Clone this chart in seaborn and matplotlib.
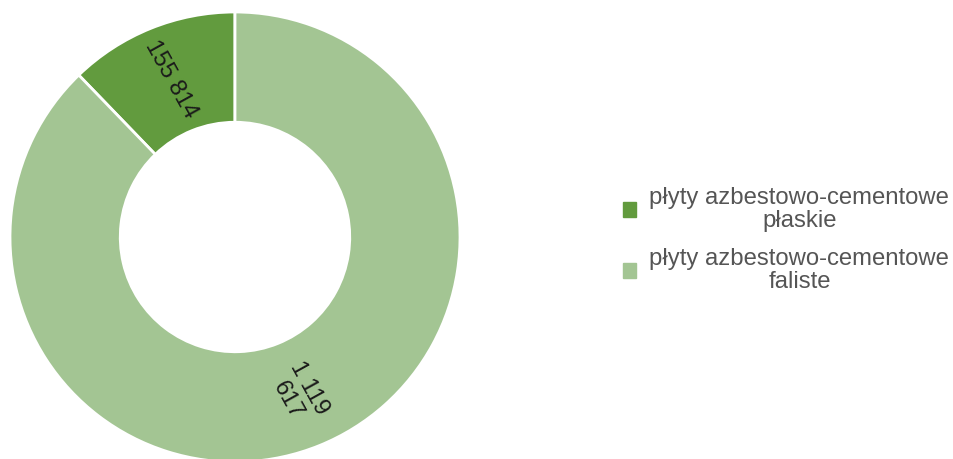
import numpy as np
import matplotlib
matplotlib.use("Agg")
import matplotlib.pyplot as plt
import seaborn as sns

categories = ["płyty azbestowo-cementowe\npłaskie", "płyty azbestowo-cementowe\nfaliste"]
values = [155814, 1119617]
value_labels = ["155 814", "1 119\n617"]
colors = ["#629b3e", "#a3c593"]

sns.set_theme(style="white")
plt.rcParams['font.family'] = ['Liberation Sans', 'DejaVu Sans']

W, H = 954, 459
fig = plt.figure(figsize=(W / 100, H / 100), dpi=100)
cx, cy, R = 235, 459 - 237, 225
ax = fig.add_axes([(cx - R) / W, (cy - R) / H, 2 * R / W, 2 * R / H])

wedges, _ = ax.pie(values, colors=colors, startangle=90, counterclock=True,
                   radius=1, wedgeprops=dict(width=0.49, edgecolor="white", linewidth=2))
ax.set_xlim(-1, 1)
ax.set_ylim(-1, 1)
ax.set_aspect("equal")
ax.axis("off")

for w, lab in zip(wedges, value_labels):
    mid = np.deg2rad((w.theta1 + w.theta2) / 2)
    r = 1 - 0.49 / 2
    x, y = r * np.cos(mid), r * np.sin(mid)
    rot = np.rad2deg(mid) % 180
    if rot > 90:
        rot -= 180
    rot += 7
    ax.text(x, y, lab, rotation=rot, ha="center", va="center", rotation_mode="anchor",
            fontsize=17, color="#1a1a1a", multialignment="center", linespacing=1.15)

handles = [plt.Rectangle((0, 0), 1, 1, color=c) for c in colors]
leg = fig.legend(handles, categories, loc="center left", bbox_to_anchor=(601 / W, 1 - 240 / H),
                 frameon=False, fontsize=17.2, handlelength=0.58, handleheight=0.58,
                 handletextpad=0.55, labelspacing=0.65, labelcolor="#555555")
for t in leg.get_texts():
    t.set_multialignment("center")
    t.set_linespacing(1.05)

fig.savefig("out.png", dpi=100)
